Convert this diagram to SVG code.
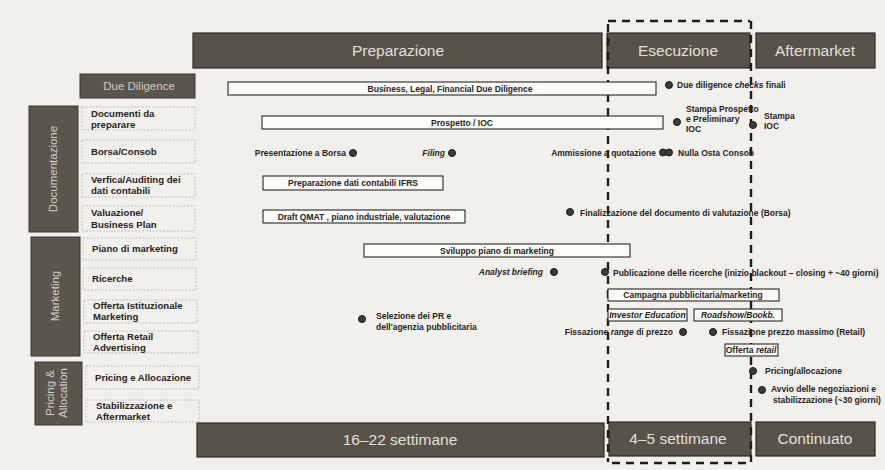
<svg xmlns="http://www.w3.org/2000/svg" width="885" height="470" viewBox="0 0 885 470">
<style>
text{font-family:"Liberation Sans",Arial,sans-serif;}
.bar{fill:#57524a;stroke:#2e2b27;stroke-width:1.2;}
.bart{fill:#e2e0db;font-size:15.5px;text-anchor:middle;}
.grp{fill:#5a554d;stroke:#3a3632;stroke-width:1;}
.grpt{fill:#cfccc6;font-size:11.5px;text-anchor:middle;}
.row{fill:none;stroke:#b9b6b0;stroke-width:0.8;stroke-dasharray:2 1.5;}
.rowt{fill:#262422;font-size:9.6px;font-weight:bold;}
.tb{fill:#fbfbf9;stroke:#2a2826;stroke-width:1.1;}
.tt{fill:#262422;font-size:8.5px;font-weight:bold;}
.c{text-anchor:middle;}
.e{text-anchor:end;}
.i{font-style:italic;}
.dot{fill:#3e3b38;stroke:#1a1918;stroke-width:1;}
.dash{fill:none;stroke:#1e1d1c;stroke-width:2.4;stroke-dasharray:8 6;}
</style>
<rect x="0" y="0" width="885" height="470" fill="#f1f0ec"/>

<g id="phase-preparazione"><rect class="bar" x="193" y="33" width="409" height="35"/><text class="bart" x="398" y="56">Preparazione</text></g>
<g id="phase-esecuzione"><rect class="bar" x="607" y="33" width="143" height="35"/><text class="bart" x="678" y="56">Esecuzione</text></g>
<g id="phase-aftermarket"><rect class="bar" x="756" y="33" width="119" height="35"/><text class="bart" x="815" y="56">Aftermarket</text></g>
<g id="dur-prep"><rect class="bar" x="197" y="423" width="407" height="34"/><text class="bart" x="400" y="445">16–22 settimane</text></g>
<g id="dur-esec"><rect class="bar" x="609" y="422" width="142" height="34"/><text class="bart" x="678" y="444">4–5 settimane</text></g>
<g id="dur-after"><rect class="bar" x="756" y="422" width="119" height="34"/><text class="bart" x="815" y="444">Continuato</text></g>

<g id="due-diligence"><rect class="grp" x="80" y="74" width="115" height="24"/><text class="grpt" x="139" y="90">Due Diligence</text></g>
<g id="grp-documentazione"><rect class="grp" x="29" y="106" width="49" height="126"/><text class="grpt" transform="translate(57,169) rotate(-90)">Documentazione</text></g>
<g id="grp-marketing"><rect class="grp" x="31" y="237" width="49" height="119"/><text class="grpt" transform="translate(59,296) rotate(-90)">Marketing</text></g>
<g id="grp-pricing"><rect class="grp" x="35" y="362" width="47" height="63"/><text class="grpt" transform="translate(54,393) rotate(-90)">Pricing &amp;</text><text class="grpt" transform="translate(67,393) rotate(-90)">Allocation</text></g>

<g id="row-documenti"><rect class="row" x="82" y="107" width="113" height="23"/><text class="rowt" x="91" y="117">Documenti da</text><text class="rowt" x="91" y="127.5">preparare</text></g>
<g id="row-borsa"><rect class="row" x="82" y="140" width="113" height="23"/><text class="rowt" x="91" y="155">Borsa/Consob</text></g>
<g id="row-verifica"><rect class="row" x="82" y="174" width="113" height="23"/><text class="rowt" x="91" y="183">Verfica/Auditing dei</text><text class="rowt" x="91" y="194">dati contabili</text></g>
<g id="row-valuazione"><rect class="row" x="82" y="206" width="113" height="25"/><text class="rowt" x="91" y="216">Valuazione/</text><text class="rowt" x="91" y="228">Business Plan</text></g>
<g id="row-piano"><rect class="row" x="83" y="238" width="113" height="22"/><text class="rowt" x="92" y="252">Piano di marketing</text></g>
<g id="row-ricerche"><rect class="row" x="83" y="268" width="113" height="22"/><text class="rowt" x="92" y="282">Ricerche</text></g>
<g id="row-istituzionale"><rect class="row" x="84" y="300" width="113" height="23"/><text class="rowt" x="93" y="309">Offerta Istituzionale</text><text class="rowt" x="93" y="320">Marketing</text></g>
<g id="row-retail"><rect class="row" x="84" y="331" width="114" height="22"/><text class="rowt" x="93" y="340">Offerta Retail</text><text class="rowt" x="93" y="351">Advertising</text></g>
<g id="row-pricing"><rect class="row" x="86" y="366" width="113" height="23"/><text class="rowt" x="95" y="381">Pricing e Allocazione</text></g>
<g id="row-stabilizzazione"><rect class="row" x="86" y="400" width="113" height="22"/><text class="rowt" x="96" y="409">Stabilizzazione e</text><text class="rowt" x="96" y="420">Aftermarket</text></g>

<g id="connectors">
<path class="dash" d="M608,21 H750"/>
<path class="dash" d="M608,24 V462"/>
<path class="dash" d="M751,21 V462"/>
<path class="dash" d="M612,463 H752"/>
</g>

<g id="bar-due-diligence"><rect class="tb" x="228" y="82" width="428" height="13"/><text class="tt c" x="450" y="91.5">Business, Legal, Financial Due Diligence</text></g>
<g id="m-dd-checks"><circle class="dot" cx="669" cy="85" r="3.5"/><text class="tt" x="677" y="88">Due diligence <tspan class="i">checks</tspan> finali</text></g>
<g id="bar-prospetto"><rect class="tb" x="262" y="116" width="401" height="13"/><text class="tt c" x="462" y="125.5">Prospetto / IOC</text></g>
<g id="m-stampa-prospetto"><circle class="dot" cx="677" cy="122" r="3.5"/><text class="tt" x="686" y="112">Stampa Prospetto</text><text class="tt" x="686" y="122">e Preliminary</text><text class="tt" x="686" y="132">IOC</text></g>
<g id="m-stampa-ioc"><circle class="dot" cx="753" cy="125" r="3.5"/><text class="tt" x="764" y="119">Stampa</text><text class="tt" x="764" y="129">IOC</text></g>
<g id="m-presentazione"><circle class="dot" cx="353" cy="153" r="3.5"/><text class="tt e" x="346" y="156">Presentazione a Borsa</text></g>
<g id="m-filing"><circle class="dot" cx="452" cy="153" r="3.5"/><text class="tt e i" x="445" y="156">Filing</text></g>
<g id="m-ammissione"><text class="tt e" x="656" y="156">Ammissione a quotazione</text><circle class="dot" cx="663" cy="152.5" r="3.5"/><circle class="dot" cx="669" cy="152.5" r="3.5"/><text class="tt" x="678" y="156">Nulla Osta Consob</text></g>
<g id="bar-ifrs"><rect class="tb" x="263" y="176" width="180" height="14"/><text class="tt c" x="353" y="186">Preparazione dati contabili IFRS</text></g>
<g id="bar-draft"><rect class="tb" x="263" y="210" width="202" height="13"/><text class="tt c" x="364" y="219.5">Draft QMAT , piano industriale, valutazione</text></g>
<g id="m-finalizzazione"><circle class="dot" cx="570" cy="212" r="3.5"/><text class="tt" x="580" y="216">Finalizzazione del documento di valutazione (Borsa)</text></g>
<g id="bar-sviluppo"><rect class="tb" x="364" y="244" width="266" height="13"/><text class="tt c" x="497" y="253.5">Sviluppo piano di marketing</text></g>
<g id="m-analyst"><circle class="dot" cx="554" cy="272" r="3.5"/><text class="tt e i" x="543" y="275">Analyst briefing</text></g>
<g id="m-publicazione"><circle class="dot" cx="605" cy="272" r="3.5"/><text class="tt" x="613" y="276">Publicazione delle ricerche (inizio blackout – closing + ~40 giorni)</text></g>
<g id="bar-campagna"><rect class="tb" x="608" y="289" width="171" height="12"/><text class="tt c" x="693" y="298">Campagna pubblicitaria/marketing</text></g>
<g id="bar-investor"><rect class="tb" x="608" y="309" width="79" height="12"/><text class="tt c i" x="647.5" y="318">Investor Education</text></g>
<g id="bar-roadshow"><rect class="tb" x="694" y="309" width="88" height="12"/><text class="tt c i" x="738" y="318">Roadshow/Bookb.</text></g>
<g id="m-selezione"><circle class="dot" cx="362" cy="319" r="3.5"/><text class="tt" x="376" y="319">Selezione dei PR e</text><text class="tt" x="376" y="330">dell'agenzia pubblicitaria</text></g>
<g id="m-range"><circle class="dot" cx="683" cy="332" r="3.5"/><text class="tt e" x="673" y="335">Fissazione <tspan class="i">range</tspan> di prezzo</text></g>
<g id="m-prezzo-max"><circle class="dot" cx="713" cy="332" r="3.5"/><text class="tt" x="722" y="335">Fissazione prezzo massimo (Retail)</text></g>
<g id="bar-retail"><rect class="tb" x="725" y="344" width="53" height="12"/><text class="tt c" x="751" y="353">Offerta <tspan class="i">retail</tspan></text></g>
<g id="m-pricing"><circle class="dot" cx="753" cy="371" r="3.5"/><text class="tt" x="765" y="374">Pricing/allocazione</text></g>
<g id="m-avvio"><circle class="dot" cx="762" cy="390" r="3.5"/><text class="tt" x="771" y="392">Avvio delle negoziazioni e</text><text class="tt" x="773" y="403">stabilizzazione (~30 giorni)</text></g>
</svg>
